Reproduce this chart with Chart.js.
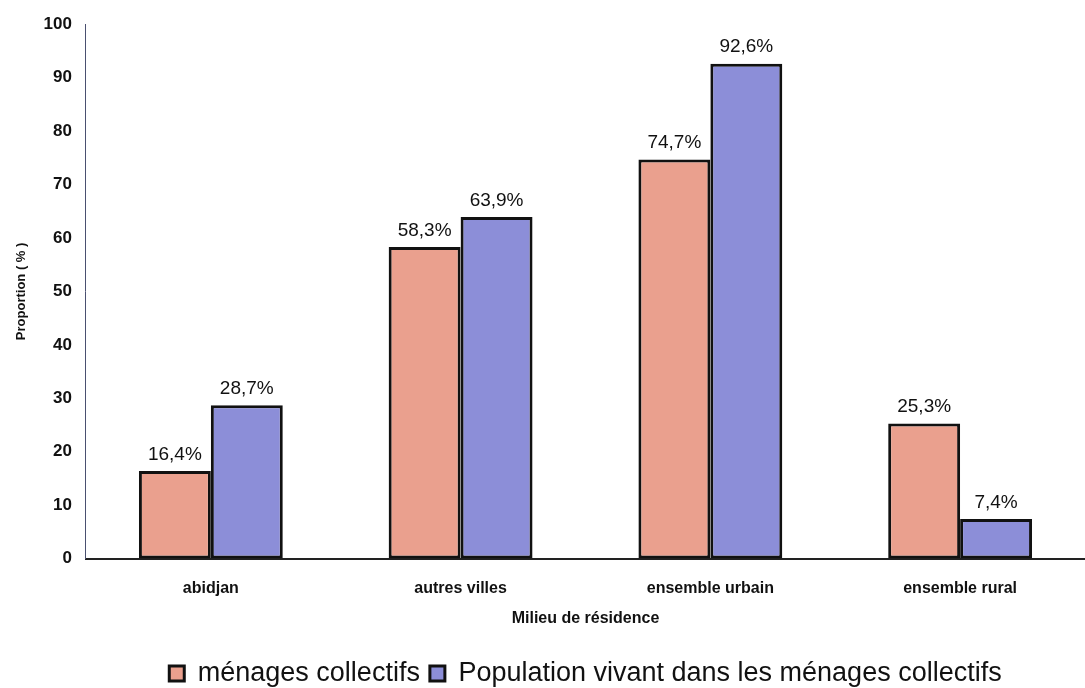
<!DOCTYPE html>
<html>
<head>
<meta charset="utf-8">
<script src="https://cdn.jsdelivr.net/npm/chart.js@4"></script>
<style>
    html, body { margin: 0; padding: 0; background: #ffffff; }
    #chart-container { width: 1085px; height: 688px; }
</style>
</head>
<body>
<div id="chart-container"><canvas id="bar-chart" width="1085" height="688"></canvas></div>
<script>
// categories (milieu de résidence)
const categories = ['abidjan', 'autres villes', 'ensemble urbain', 'ensemble rural'];

// series values in %
const menagesCollectifs = [16.4, 58.3, 74.7, 25.3];
const populationMenages = [28.7, 63.9, 92.6, 7.4];

const seriesNames = ['ménages collectifs', 'Population vivant dans les ménages collectifs'];

// y axis ticks
const yTicks = [0, 10, 20, 30, 40, 50, 60, 70, 80, 90, 100];

const FONT = '"Liberation Sans", Arial, sans-serif';

/**
 * writes "16,4%" style labels above each bar
 */
const barLabels = {
    id: 'barLabels',
    afterDatasetsDraw: function (chart) {
        const ctx = chart.ctx;
        ctx.save();
        ctx.font = '19px ' + FONT;
        ctx.fillStyle = '#111';
        ctx.textAlign = 'center';
        ctx.textBaseline = 'bottom';
        chart.data.datasets.forEach(function (ds, i) {
            chart.getDatasetMeta(i).data.forEach(function (bar, j) {
                const txt = ds.data[j].toFixed(1).replace('.', ',') + '%';
                ctx.fillText(txt, bar.x, bar.y - 7);
            });
        });
        ctx.restore();
    }
};

new Chart(document.querySelector('#bar-chart').getContext('2d'), {
    type: 'bar',
    data: {
        labels: categories,
        datasets: [
            {
                label: seriesNames[0],
                data: menagesCollectifs,
                backgroundColor: '#eaa08e',
                borderColor: '#111',
                borderWidth: 3,
                borderSkipped: false,
                categoryPercentage: 0.576,
                barPercentage: 1
            },
            {
                label: seriesNames[1],
                data: populationMenages,
                backgroundColor: '#8c8ed8',
                borderColor: '#111',
                borderWidth: 3,
                borderSkipped: false,
                categoryPercentage: 0.576,
                barPercentage: 1
            }
        ]
    },
    options: {
        responsive: false,
        animation: false,
        layout: { padding: { top: 18, right: 0, left: 14, bottom: -9 } },
        plugins: {
            tooltip: { enabled: false },
            legend: {
                position: 'bottom',
                fullSize: false,
                labels: {
                    color: '#111',
                    font: { family: FONT, size: 27 },
                    boxWidth: 15,
                    boxHeight: 15,
                    padding: 10
                }
            }
        },
        scales: {
            x: {
                grid: { display: false, drawTicks: false },
                border: { color: '#222', width: 2 },
                ticks: {
                    color: '#111',
                    padding: 20,
                    font: { family: FONT, size: 16, weight: 'bold' }
                },
                title: {
                    display: true,
                    text: 'Milieu de résidence',
                    color: '#111',
                    padding: { top: -9, bottom: 22 },
                    font: { family: FONT, size: 16, weight: 'bold' }
                }
            },
            y: {
                min: 0,
                max: 100,
                afterBuildTicks: function (axis) {
                    axis.ticks = yTicks.map(function (v) { return { value: v }; });
                },
                grid: { display: false, drawTicks: false },
                border: { color: '#4a5070', width: 1 },
                ticks: {
                    color: '#111',
                    padding: 14,
                    font: { family: FONT, size: 17, weight: 'bold' }
                },
                title: {
                    display: true,
                    text: 'Proportion ( % )',
                    color: '#111',
                    padding: { top: 0, bottom: 0 },
                    font: { family: FONT, size: 13, weight: 'bold' }
                }
            }
        }
    },
    plugins: [barLabels]
});
</script>
</body>
</html>
